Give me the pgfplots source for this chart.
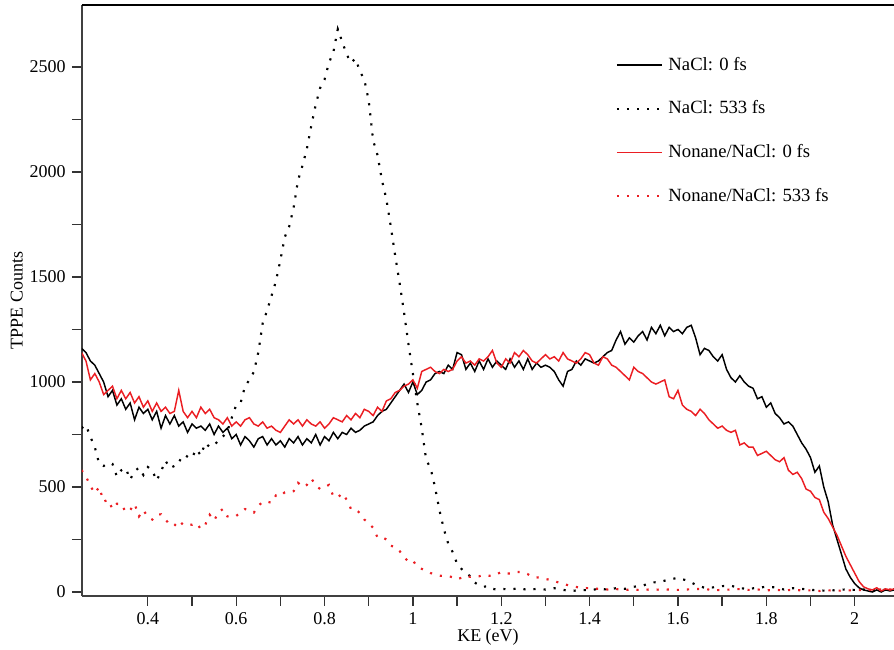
\documentclass[border=0pt]{standalone}
\usepackage{pgfplots}
\pgfplotsset{compat=1.18}
\usepackage{fontspec}
\setmainfont{Liberation Serif}
\definecolor{myred}{RGB}{235,30,35}
\begin{document}
\fontsize{13.5}{16}\selectfont
\begin{tikzpicture}
\path[use as bounding box] (-61.5pt,-40.5pt) rectangle (609pt,447pt);
\begin{axis}[
  at={(0,0)}, anchor=south west,
  scale only axis, width=609pt, height=443.25pt,
  xmin=0.251, xmax=2.089, ymin=-19, ymax=2795,
  axis lines=left, axis line style={-, line width=1.2pt, black!75},
  tick align=outside,
  major tick length=7.5pt, minor tick length=7.5pt,
  tick style={line width=1pt, black!80},
  xtick={0.4,0.6,0.8,1,1.2,1.4,1.6,1.8,2},
  minor xtick={0.5,0.7,0.9,1.1,1.3,1.5,1.7,1.9},
  ytick={0,500,1000,1500,2000,2500},
  minor ytick={250,750,1250,1750,2250},
  /pgf/number format/assume math mode=true,
  /pgf/number format/1000 sep={},
  ticklabel style={font=\fontsize{13.5}{16}\selectfont},
  label style={font=\fontsize{13.5}{16}\selectfont},
  xlabel={KE (eV)}, ylabel={TPPE Counts},
  xlabel style={yshift=6pt},
  ylabel style={yshift=-4pt},
  legend style={draw=none, fill=none, at={(0.652,0.921)}, anchor=north west,
    font=\fontsize{14}{16.5}\selectfont, row sep=16.8pt, column sep=2pt, legend cell align=left},
  legend image code/.code={\draw[#1] (0pt,0pt) -- (34pt,0pt);},
  after end axis/.code={\draw[line width=1.5pt] (rel axis cs:0,1) -- (rel axis cs:1,1);},
  clip=true,
]
% NaCl 0 fs
\addplot[draw=black, line width=1.1pt] coordinates {
(0.25,1160)(0.26,1140)(0.27,1100)(0.28,1080)(0.29,1040)(0.30,1000)(0.31,930)(0.32,960)(0.33,890)(0.34,920)
(0.35,870)(0.36,900)(0.37,820)(0.38,880)(0.39,850)(0.40,870)(0.41,820)(0.42,860)(0.43,780)(0.44,840)
(0.45,800)(0.46,840)(0.47,790)(0.48,810)(0.49,760)(0.50,800)(0.51,780)(0.52,790)(0.53,770)(0.54,800)
(0.55,750)(0.56,790)(0.57,760)(0.58,780)(0.59,730)(0.60,750)(0.61,700)(0.62,740)(0.63,720)(0.64,690)
(0.65,730)(0.66,740)(0.67,700)(0.68,730)(0.69,700)(0.70,720)(0.71,690)(0.72,730)(0.73,710)(0.74,740)
(0.75,700)(0.76,730)(0.77,710)(0.78,750)(0.79,700)(0.80,740)(0.81,720)(0.82,760)(0.83,730)(0.84,760)
(0.85,750)(0.86,780)(0.87,760)(0.88,770)(0.89,790)(0.90,800)(0.91,810)(0.92,840)(0.93,860)(0.94,870)
(0.95,900)(0.96,930)(0.97,960)(0.98,990)(0.99,950)(1.00,1000)(1.01,940)(1.02,960)(1.03,1000)(1.04,1010)
(1.05,1040)(1.06,1050)(1.07,1040)(1.08,1080)(1.09,1060)(1.10,1140)(1.11,1130)(1.12,1060)(1.13,1090)(1.14,1050)
(1.15,1100)(1.16,1060)(1.17,1110)(1.18,1070)(1.19,1100)(1.20,1080)(1.21,1060)(1.22,1110)(1.23,1070)(1.24,1100)
(1.25,1060)(1.26,1110)(1.27,1060)(1.28,1090)(1.29,1070)(1.30,1080)(1.31,1070)(1.32,1050)(1.33,1010)(1.34,980)
(1.35,1050)(1.36,1060)(1.37,1100)(1.38,1080)(1.39,1110)(1.40,1100)(1.41,1090)(1.42,1100)(1.43,1120)(1.44,1140)
(1.45,1150)(1.46,1200)(1.47,1240)(1.48,1180)(1.49,1210)(1.50,1190)(1.51,1220)(1.52,1240)(1.53,1200)(1.54,1260)
(1.55,1230)(1.56,1270)(1.57,1220)(1.58,1260)(1.59,1240)(1.60,1250)(1.61,1230)(1.62,1260)(1.63,1270)(1.64,1210)
(1.65,1130)(1.66,1160)(1.67,1150)(1.68,1120)(1.69,1100)(1.70,1130)(1.71,1060)(1.72,1020)(1.73,1000)(1.74,1030)
(1.75,1000)(1.76,980)(1.77,970)(1.78,920)(1.79,930)(1.80,880)(1.81,900)(1.82,850)(1.83,830)(1.84,800)
(1.85,810)(1.86,790)(1.87,750)(1.88,710)(1.89,680)(1.90,640)(1.91,570)(1.92,600)(1.93,500)(1.94,430)
(1.95,320)(1.96,250)(1.97,180)(1.98,110)(1.99,70)(2.00,40)(2.01,20)(2.02,10)(2.03,5)(2.04,0)
(2.05,10)(2.06,0)(2.07,10)(2.08,5)(2.09,10)
};
\addlegendentry{NaCl: 0 fs}
% NaCl 533 fs
\addplot[draw=black, line width=1.6pt, dash pattern=on 1.6pt off 6pt] coordinates {
(0.25,780)(0.26,795)(0.27,738)(0.28,690)(0.29,610)(0.30,600)(0.31,614)(0.32,610)(0.33,550)(0.34,580)
(0.35,590)(0.36,535)(0.37,575)(0.38,592)(0.39,557)(0.40,595)(0.41,580)(0.42,530)(0.43,575)(0.44,625)
(0.45,590)(0.46,600)(0.47,630)(0.48,620)(0.49,650)(0.50,640)(0.51,680)(0.52,650)(0.53,710)(0.54,690)
(0.55,700)(0.56,720)(0.57,740)(0.58,765)(0.59,830)(0.60,890)(0.61,900)(0.62,980)(0.63,1010)(0.64,1048)
(0.65,1140)(0.66,1280)(0.67,1340)(0.68,1410)(0.69,1480)(0.70,1580)(0.71,1690)(0.72,1740)(0.73,1830)(0.74,1960)
(0.75,2030)(0.76,2110)(0.77,2220)(0.78,2320)(0.79,2400)(0.80,2440)(0.81,2520)(0.82,2570)(0.83,2680)(0.84,2620)
(0.85,2560)(0.86,2520)(0.87,2540)(0.88,2480)(0.89,2440)(0.90,2340)(0.91,2150)(0.92,2080)(0.93,1960)(0.94,1870)
(0.95,1740)(0.96,1600)(0.97,1470)(0.98,1330)(0.99,1180)(1.00,1040)(1.01,900)(1.02,780)(1.03,630)(1.04,590)
(1.05,500)(1.06,390)(1.07,300)(1.08,230)(1.09,190)(1.10,135)(1.11,110)(1.12,90)(1.13,75)(1.14,45)
(1.15,32)(1.16,25)(1.17,28)(1.18,15)(1.19,12)(1.20,15)(1.22,12)(1.24,18)(1.26,10)(1.28,15)
(1.30,12)(1.32,18)(1.34,10)(1.36,5)(1.38,10)(1.40,8)(1.42,15)(1.44,12)(1.46,18)(1.48,15)
(1.50,25)(1.52,30)(1.54,45)(1.56,48)(1.58,60)(1.60,67)(1.62,55)(1.64,35)(1.66,20)(1.68,22)
(1.70,28)(1.72,30)(1.74,18)(1.76,15)(1.78,20)(1.80,25)(1.82,22)(1.84,12)(1.86,18)(1.88,15)
(1.90,10)(1.92,8)(1.94,5)(1.96,10)(1.98,12)(2.00,10)(2.02,12)(2.04,8)(2.06,10)(2.09,12)
};
\addlegendentry{NaCl: 533 fs}
% Nonane/NaCl 0 fs
\addplot[draw=myred, line width=1.1pt] coordinates {
(0.25,1140)(0.26,1100)(0.27,1010)(0.28,1040)(0.29,1000)(0.30,940)(0.31,960)(0.32,980)(0.33,920)(0.34,960)
(0.35,920)(0.36,950)(0.37,900)(0.38,930)(0.39,880)(0.40,910)(0.41,860)(0.42,900)(0.43,860)(0.44,880)
(0.45,850)(0.46,860)(0.47,960)(0.48,860)(0.49,830)(0.50,860)(0.51,830)(0.52,880)(0.53,850)(0.54,870)
(0.55,830)(0.56,820)(0.57,800)(0.58,830)(0.59,790)(0.60,810)(0.61,790)(0.62,820)(0.63,830)(0.64,800)
(0.65,790)(0.66,810)(0.67,780)(0.68,790)(0.69,770)(0.70,760)(0.71,790)(0.72,820)(0.73,800)(0.74,820)
(0.75,790)(0.76,820)(0.77,800)(0.78,790)(0.79,810)(0.80,780)(0.81,800)(0.82,830)(0.83,820)(0.84,810)
(0.85,840)(0.86,820)(0.87,850)(0.88,830)(0.89,870)(0.90,860)(0.91,840)(0.92,880)(0.93,860)(0.94,910)
(0.95,920)(0.96,950)(0.97,960)(0.98,980)(0.99,990)(1.00,1010)(1.01,970)(1.02,1050)(1.03,1060)(1.04,1070)
(1.05,1050)(1.06,1040)(1.07,1060)(1.08,1050)(1.09,1060)(1.10,1100)(1.11,1120)(1.12,1090)(1.13,1100)(1.14,1080)
(1.15,1110)(1.16,1100)(1.17,1120)(1.18,1150)(1.19,1090)(1.20,1070)(1.21,1110)(1.22,1090)(1.23,1140)(1.24,1120)
(1.25,1150)(1.26,1130)(1.27,1100)(1.28,1090)(1.29,1110)(1.30,1130)(1.31,1110)(1.32,1120)(1.33,1100)(1.34,1140)
(1.35,1110)(1.36,1100)(1.37,1090)(1.38,1110)(1.39,1140)(1.40,1130)(1.41,1090)(1.42,1080)(1.43,1120)(1.44,1110)
(1.45,1080)(1.46,1070)(1.47,1050)(1.48,1030)(1.49,1010)(1.50,1070)(1.51,1050)(1.52,1040)(1.53,1020)(1.54,1000)
(1.55,990)(1.56,1000)(1.57,1010)(1.58,930)(1.59,920)(1.60,960)(1.61,890)(1.62,870)(1.63,860)(1.64,840)
(1.65,870)(1.66,850)(1.67,820)(1.68,800)(1.69,780)(1.70,790)(1.71,770)(1.72,760)(1.73,770)(1.74,700)
(1.75,710)(1.76,690)(1.77,690)(1.78,650)(1.79,660)(1.80,670)(1.81,650)(1.82,630)(1.83,620)(1.84,640)
(1.85,580)(1.86,560)(1.87,570)(1.88,540)(1.89,490)(1.90,480)(1.91,450)(1.92,440)(1.93,380)(1.94,350)
(1.95,310)(1.96,270)(1.97,220)(1.98,170)(1.99,130)(2.00,90)(2.01,50)(2.02,25)(2.03,15)(2.04,10)
(2.05,20)(2.06,5)(2.07,15)(2.08,10)(2.09,15)
};
\addlegendentry{Nonane/NaCl: 0 fs}
% Nonane/NaCl 533 fs
\addplot[draw=myred, line width=1.6pt, dash pattern=on 1.6pt off 6pt] coordinates {
(0.25,580)(0.26,550)(0.27,505)(0.28,470)(0.29,500)(0.30,430)(0.31,440)(0.32,395)(0.33,420)(0.34,420)
(0.35,380)(0.36,390)(0.37,420)(0.38,360)(0.39,390)(0.40,357)(0.41,345)(0.42,368)(0.43,370)(0.44,345)
(0.45,320)(0.46,315)(0.47,340)(0.48,320)(0.49,325)(0.50,320)(0.51,328)(0.52,300)(0.53,320)(0.54,368)
(0.55,340)(0.56,380)(0.57,395)(0.58,360)(0.59,357)(0.60,362)(0.61,380)(0.62,395)(0.63,385)(0.64,378)
(0.65,410)(0.66,430)(0.67,430)(0.68,425)(0.69,460)(0.70,455)(0.71,475)(0.72,478)(0.73,480)(0.74,520)
(0.75,500)(0.76,510)(0.77,540)(0.78,510)(0.79,490)(0.80,500)(0.81,510)(0.82,455)(0.83,450)(0.84,470)
(0.85,440)(0.86,395)(0.87,395)(0.88,375)(0.89,345)(0.90,330)(0.91,305)(0.92,260)(0.93,262)(0.94,250)
(0.95,220)(0.96,215)(0.97,195)(0.98,165)(0.99,145)(1.00,150)(1.01,120)(1.02,110)(1.03,100)(1.04,90)
(1.05,85)(1.06,78)(1.07,76)(1.08,76)(1.09,70)(1.10,60)(1.11,68)(1.12,78)(1.13,72)(1.14,76)
(1.15,75)(1.16,81)(1.17,78)(1.18,76)(1.19,85)(1.20,95)(1.21,88)(1.22,88)(1.23,95)(1.24,95)
(1.25,95)(1.26,85)(1.27,72)(1.28,70)(1.29,67)(1.30,62)(1.31,58)(1.32,52)(1.33,45)(1.34,38)
(1.35,33)(1.36,28)(1.37,24)(1.38,20)(1.39,19)(1.40,18)(1.42,15)(1.44,12)(1.46,14)(1.48,10)
(1.50,12)(1.52,8)(1.54,14)(1.56,10)(1.58,12)(1.60,10)(1.62,12)(1.64,14)(1.66,15)(1.68,8)
(1.70,10)(1.72,12)(1.74,14)(1.76,10)(1.78,12)(1.80,8)(1.82,10)(1.84,8)(1.86,10)(1.88,8)
(1.90,8)(1.92,5)(1.94,8)(1.96,6)(1.98,8)(2.00,8)(2.02,10)(2.04,10)(2.06,12)(2.09,12)
};
\addlegendentry{Nonane/NaCl: 533 fs}
\end{axis}
\end{tikzpicture}
\end{document}
